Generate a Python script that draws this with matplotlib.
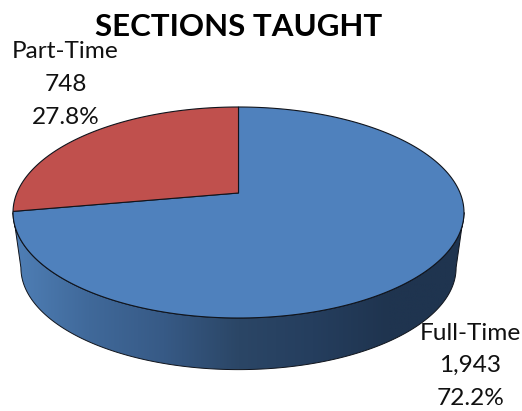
import numpy as np
import matplotlib
matplotlib.use('Agg')
import matplotlib.pyplot as plt
from matplotlib.colors import LinearSegmentedColormap
from matplotlib.patches import Polygon

# data
categories = ['Full-Time', 'Part-Time']
sections = [1943, 748]
percent_labels = ['72.2%', '27.8%']
count_labels = ['1,943', '748']
slice_colors = ['#4F81BD', '#C0504D']

# pie shading along the front wall, left to right
wall_colors = ['#4F7FB6', '#40699A', '#375A86', '#2B4666', '#253E5E', '#1F344F', '#1F344F']

plt.rcParams['font.family'] = ['Lato', 'DejaVu Sans']

fig = plt.figure(figsize=(5.22, 4.11), dpi=100)
ax = fig.add_axes([0, 0, 1, 1])
ax.set_xlim(0, 522)
ax.set_ylim(411, 0)
ax.axis('off')

# tilted pie, far side is squeezed so the apex sits above the ellipse centre
cx, cy = 238.5, 193
k, a, b = 0.1848, 221.6, 101.9
shrink = 0.965
drop = 56


def project(theta, scale=1.0, down=0.0):
    # theta runs counter clockwise from 12 o'clock
    u = -np.sin(theta)
    v = np.cos(theta)
    d = 1 + k * v
    return cx + scale * a * u / d, cy + down - scale * b * v / d


def slice_poly(start, end):
    t = np.linspace(start, end, 200)
    x, y = project(t)
    return np.column_stack([np.r_[cx, x], np.r_[cy, y]])


# front wall, from left edge round the bottom to the right edge
t_wall = np.linspace(np.radians(100.6), np.radians(259.4), 300)
x_top, y_top = project(t_wall)
x_bot, y_bot = project(t_wall, shrink, drop)
wall = Polygon(np.column_stack([np.r_[x_top, x_bot[::-1]], np.r_[y_top, y_bot[::-1]]]),
               closed=True, facecolor='none', edgecolor='#10141c', linewidth=0.7, zorder=3)
ax.add_patch(wall)
cmap = LinearSegmentedColormap.from_list('wall', wall_colors)
img = ax.imshow(np.linspace(0, 1, 256).reshape(1, -1), cmap=cmap, aspect='auto',
                extent=[13, 464, 380, 190], zorder=2)
img.set_clip_path(wall)
ax.set_xlim(0, 522)
ax.set_ylim(411, 0)

# top face: part-time goes counter clockwise from 12 o'clock
total = sum(sections)
part_end = 2 * np.pi * sections[1] / total
ax.add_patch(Polygon(slice_poly(part_end, 2 * np.pi), closed=True, facecolor=slice_colors[0],
                     edgecolor='#10141c', linewidth=0.8, zorder=4))
ax.add_patch(Polygon(slice_poly(0, part_end), closed=True, facecolor=slice_colors[1],
                     edgecolor='#10141c', linewidth=0.8, zorder=5))

ax.text(239, 26.5, 'SECTIONS TAUGHT', ha='center', va='center', fontsize=22.5,
        fontweight='bold', color='black', zorder=6)

label_x = [470.5, 65.5]
label_y = [333, 52]
for i in range(2):
    for j, s in enumerate([categories[i], count_labels[i], percent_labels[i]]):
        ax.text(label_x[i], label_y[i] + j * 32.5, s, ha='center', va='center',
                fontsize=17.6, color='#111111', zorder=6)

fig.savefig('out.png', dpi=100)
